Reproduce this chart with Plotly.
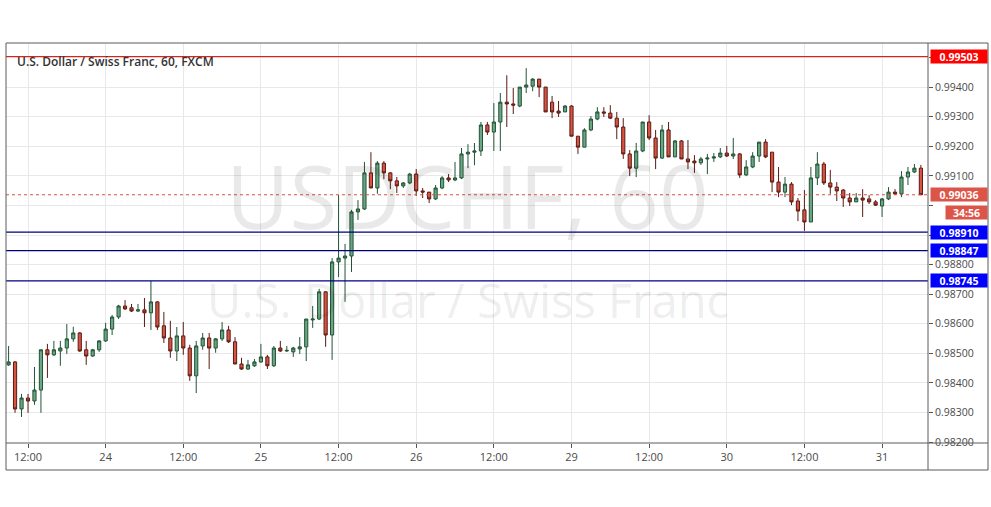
import plotly.graph_objects as go

# Hourly bars, USD/CHF (index 0 = 23rd 09:00)
open_ = [0.98461,0.98471,0.98312,0.98349,0.98339,0.98376,0.98512,0.98495,0.98508,0.98518,
         0.98549,0.98569,0.98512,0.98491,0.98512,0.98542,0.98582,0.98623,0.98660,0.98654,
         0.98643,0.98647,0.98637,0.98674,0.98593,0.98552,0.98508,0.98559,0.98518,0.98424,
         0.98525,0.98552,0.98518,0.98549,0.98579,0.98539,0.98464,0.98447,0.98458,0.98471,
         0.98488,0.98458,0.98518,0.98508,0.98505,0.98515,0.98522,0.98613,0.98616,0.98708,
         0.98562,0.98809,0.98822,0.98829,0.98978,0.98988,0.99110,0.99059,0.99143,0.99110,
         0.99083,0.99066,0.99076,0.99106,0.99049,0.99045,0.99022,0.99059,0.99093,0.99086,
         0.99093,0.99174,0.99180,0.99184,0.99272,0.99248,0.99282,0.99349,0.99343,0.99336,
         0.99400,0.99403,0.99427,0.99400,0.99349,0.99319,0.99316,0.99336,0.99234,0.99197,
         0.99255,0.99292,0.99316,0.99312,0.99295,0.99265,0.99174,0.99126,0.99184,0.99282,
         0.99228,0.99160,0.99255,0.99164,0.99218,0.99157,0.99150,0.99144,0.99157,0.99160,
         0.99164,0.99177,0.99167,0.99174,0.99103,0.99130,0.99167,0.99214,0.99180,0.99079,
         0.99045,0.99072,0.99015,0.98985,0.98944,0.99093,0.99140,0.99076,0.99062,0.99052,
         0.99025,0.99012,0.99025,0.99022,0.99012,0.98998,0.99022,0.99045,0.99039,0.99096,
         0.99113,0.99126]
high = [0.98525,0.98474,0.98363,0.98363,0.98454,0.98512,0.98532,0.98542,0.98542,0.98599,
        0.98590,0.98572,0.98542,0.98515,0.98545,0.98603,0.98630,0.98664,0.98680,0.98667,
        0.98667,0.98687,0.98745,0.98676,0.98640,0.98610,0.98589,0.98606,0.98529,0.98542,
        0.98569,0.98569,0.98552,0.98606,0.98593,0.98555,0.98485,0.98478,0.98481,0.98532,
        0.98495,0.98525,0.98542,0.98525,0.98522,0.98555,0.98616,0.98660,0.98718,0.98710,
        0.98822,0.99035,0.98870,0.98985,0.99018,0.99147,0.99180,0.99150,0.99150,0.99113,
        0.99096,0.99079,0.99110,0.99123,0.99059,0.99045,0.99069,0.99099,0.99106,0.99147,
        0.99194,0.99207,0.99211,0.99282,0.99282,0.99346,0.99380,0.99440,0.99397,0.99400,
        0.99464,0.99430,0.99427,0.99400,0.99370,0.99353,0.99339,0.99339,0.99234,0.99261,
        0.99302,0.99332,0.99332,0.99339,0.99316,0.99295,0.99187,0.99211,0.99282,0.99305,
        0.99255,0.99272,0.99282,0.99221,0.99221,0.99221,0.99170,0.99164,0.99174,0.99177,
        0.99194,0.99201,0.99228,0.99177,0.99153,0.99180,0.99214,0.99224,0.99180,0.99130,
        0.99096,0.99079,0.99025,0.99052,0.99130,0.99180,0.99147,0.99120,0.99079,0.99055,
        0.99042,0.99042,0.99055,0.99035,0.99018,0.99025,0.99062,0.99055,0.99116,0.99130,
        0.99140,0.99137]
low = [0.98458,0.98299,0.98285,0.98299,0.98326,0.98299,0.98417,0.98491,0.98458,0.98498,
       0.98539,0.98505,0.98461,0.98488,0.98505,0.98539,0.98562,0.98616,0.98647,0.98640,
       0.98640,0.98589,0.98579,0.98579,0.98535,0.98485,0.98474,0.98495,0.98407,0.98366,
       0.98512,0.98447,0.98502,0.98542,0.98535,0.98464,0.98444,0.98444,0.98454,0.98468,
       0.98447,0.98454,0.98505,0.98505,0.98488,0.98498,0.98474,0.98586,0.98613,0.98522,
       0.98478,0.98758,0.98674,0.98775,0.98951,0.98985,0.99059,0.99039,0.99089,0.99055,
       0.99042,0.99059,0.99072,0.99032,0.99025,0.99008,0.99018,0.99055,0.99079,0.99082,
       0.99089,0.99126,0.99136,0.99167,0.99238,0.99184,0.99184,0.99265,0.99309,0.99332,
       0.99380,0.99386,0.99366,0.99316,0.99295,0.99299,0.99316,0.99234,0.99174,0.99197,
       0.99251,0.99288,0.99299,0.99292,0.99224,0.99157,0.99099,0.99096,0.99180,0.99221,
       0.99123,0.99157,0.99164,0.99164,0.99157,0.99123,0.99110,0.99137,0.99106,0.99147,
       0.99160,0.99164,0.99157,0.99093,0.99099,0.99126,0.99147,0.99160,0.99045,0.99028,
       0.99028,0.99001,0.98947,0.98914,0.98944,0.99069,0.99069,0.99039,0.99015,0.98995,
       0.98998,0.99012,0.98961,0.99005,0.98998,0.98961,0.99018,0.99035,0.99028,0.99069,
       0.99110,0.99036]
close = [0.98471,0.98312,0.98349,0.98339,0.98376,0.98512,0.98495,0.98512,0.98518,0.98549,
         0.98569,0.98508,0.98491,0.98512,0.98542,0.98582,0.98623,0.98660,0.98650,0.98643,
         0.98647,0.98637,0.98674,0.98589,0.98552,0.98508,0.98559,0.98518,0.98424,0.98525,
         0.98552,0.98518,0.98549,0.98579,0.98539,0.98464,0.98447,0.98461,0.98471,0.98488,
         0.98458,0.98518,0.98508,0.98510,0.98518,0.98522,0.98616,0.98616,0.98708,0.98562,
         0.98809,0.98822,0.98829,0.98978,0.98988,0.99110,0.99059,0.99143,0.99110,0.99083,
         0.99066,0.99076,0.99106,0.99049,0.99045,0.99022,0.99059,0.99093,0.99086,0.99093,
         0.99174,0.99180,0.99184,0.99272,0.99248,0.99282,0.99349,0.99343,0.99339,0.99400,
         0.99407,0.99427,0.99400,0.99316,0.99316,0.99312,0.99336,0.99234,0.99197,0.99255,
         0.99292,0.99316,0.99312,0.99295,0.99265,0.99174,0.99126,0.99184,0.99282,0.99228,
         0.99160,0.99255,0.99164,0.99218,0.99157,0.99147,0.99144,0.99157,0.99160,0.99164,
         0.99177,0.99167,0.99174,0.99103,0.99130,0.99167,0.99214,0.99164,0.99079,0.99045,
         0.99072,0.99012,0.98981,0.98944,0.99093,0.99140,0.99076,0.99062,0.99049,0.99025,
         0.99012,0.99025,0.99018,0.99012,0.99001,0.99022,0.99045,0.99039,0.99096,0.99113,
         0.99126,0.99036]

bar_index = list(range(len(close)))

tick_index = [3, 15, 27, 39, 51, 63, 75, 87, 99, 111, 123, 135]
tick_labels = ["12:00", "24", "12:00", "25", "12:00", "26", "12:00", "29", "12:00", "30", "12:00", "31"]

price_ticks = [0.982, 0.983, 0.984, 0.985, 0.986, 0.987, 0.988, 0.989, 0.990, 0.991, 0.992, 0.993, 0.994, 0.995]
# ticks hidden behind the price-label boxes in the reference
covered_ticks = [0.989, 0.990, 0.995]
price_tick_text = ["" if t in covered_ticks else "%.5f" % t for t in price_ticks]

resistance_level = 0.99503
support_levels = [0.98910, 0.98847, 0.98745]
last_price = 0.99036
countdown = "34:56"
title_text = "U.S. Dollar / Swiss Franc, 60, FXCM"
watermark_symbol = "USDCHF, 60"
watermark_name = "U.S. Dollar / Swiss Franc"

y_range = [0.98197, 0.99549]
x_range = [-0.4, 142.1]

fig = go.Figure()
fig.add_trace(go.Candlestick(
    x=bar_index, open=open_, high=high, low=low, close=close,
    increasing=dict(fillcolor="#6ba583", line=dict(color="#225437", width=1)),
    decreasing=dict(fillcolor="#d75442", line=dict(color="#5b1a13", width=1)),
    whiskerwidth=0, showlegend=False, hoverinfo="skip",
))

shapes = []
# horizontal levels
shapes.append(dict(type="line", xref="paper", yref="y", x0=0, x1=1, y0=resistance_level, y1=resistance_level,
                   line=dict(color="#e00000", width=1)))
for lv in support_levels:
    shapes.append(dict(type="line", xref="paper", yref="y", x0=0, x1=1, y0=lv, y1=lv,
                       line=dict(color="#000080", width=1.2)))
shapes.append(dict(type="line", xref="paper", yref="y", x0=0, x1=1, y0=last_price, y1=last_price,
                   line=dict(color="#d75442", width=1, dash="dot")))
# frame
frame_col = "#5a5a5a"
xr = (988 - 6) / 922
yb = -(470 - 443) / 400
for (x0, y0, x1, y1) in [(0, 1, xr, 1), (0, yb, xr, yb), (0, 0, xr, 0), (0, yb, 0, 1), (1, yb, 1, 1), (xr, yb, xr, 1)]:
    shapes.append(dict(type="line", xref="paper", yref="paper", x0=x0, y0=y0, x1=x1, y1=y1,
                       line=dict(color=frame_col, width=1)))

annotations = []
# watermark
annotations.append(dict(xref="paper", yref="paper", x=0.501, y=0.62, text=watermark_symbol, showarrow=False,
                        font=dict(family="Open Sans", size=87, color="rgba(0,0,0,0.085)"),
                        xanchor="center", yanchor="middle"))
annotations.append(dict(xref="paper", yref="paper", x=0.501, y=0.3575, text=watermark_name, showarrow=False,
                        font=dict(family="Open Sans", size=47, color="rgba(0,0,0,0.085)"),
                        xanchor="center", yanchor="middle"))
# title
annotations.append(dict(xref="paper", yref="paper", x=(15 - 6) / 922, y=(443 - 61) / 400, text=title_text,
                        showarrow=False, xanchor="left", yanchor="middle",
                        font=dict(family="Open Sans", size=12, color="#333333", weight=600)))


def price_label(val, bg, text=None, yshift=0, xshift=2, width=54):
    return dict(xref="paper", yref="y", x=1, y=val, xanchor="left", yanchor="middle",
                xshift=xshift, yshift=yshift, showarrow=False,
                text="<b>%s</b>" % (text if text is not None else "%.5f" % val),
                bgcolor=bg, borderpad=1, width=width, height=11,
                font=dict(family="Open Sans", size=10.5, color="white"))


annotations.append(price_label(resistance_level, "#ff0000"))
for lv in support_levels:
    annotations.append(price_label(lv, "#0000ff"))
annotations.append(price_label(last_price, "#dd5548"))
annotations.append(price_label(last_price, "#dd5548", text=countdown, yshift=-18, xshift=17, width=39))

fig.update_layout(
    width=991, height=507,
    margin=dict(l=6, r=63, t=43, b=64),
    paper_bgcolor="white", plot_bgcolor="white",
    shapes=shapes, annotations=annotations,
    xaxis=dict(range=x_range, tickmode="array", tickvals=tick_index, ticktext=tick_labels,
               showgrid=True, gridcolor="#e8e8e8", gridwidth=1, zeroline=False,
               ticks="outside", ticklen=4, tickcolor="#555555", showline=False,
               rangeslider=dict(visible=False),
               tickfont=dict(family="Open Sans", size=11, color="#4a4a4a")),
    yaxis=dict(range=y_range, side="right", tickmode="array", tickvals=price_ticks, ticktext=price_tick_text,
               showgrid=True, gridcolor="#e8e8e8", gridwidth=1, zeroline=False,
               ticks="outside", ticklen=4, tickcolor="#555555", showline=False,
               tickfont=dict(family="Open Sans", size=10.5, color="#4a4a4a")),
)

fig.write_html("out.html", config={"displayModeBar": False},
               post_script="document.body.style.margin='0';document.body.style.overflow='hidden';")
